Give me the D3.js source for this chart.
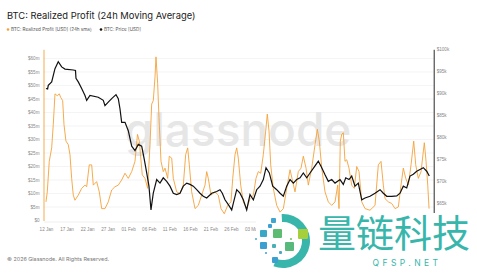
<!DOCTYPE html>
<html>
<head>
<meta charset="utf-8">
<script src="https://cdn.jsdelivr.net/npm/d3@7"></script>
<style>
  html, body { margin: 0; padding: 0; background: #fff; }
  svg { display: block; font-family: Inter, "Noto Sans", sans-serif; }
</style>
</head>
<body>
<svg id="chart" width="477" height="273"></svg>
<script>
// days after 2026-01-12 (UTC) and realized profit in $m
const profitDays = [0, 0.32, 0.8, 1.39, 1.78, 2.19, 2.75, 3.24, 3.58, 4.06, 4.38, 4.86, 5.42, 5.84, 6.25, 6.64, 7.05, 7.86, 8.68, 9.49,
  9.9, 10.53, 11.12, 11.51, 12.33, 12.97, 13.55, 14.35, 15.15, 15.98, 16.78, 17.59, 18.41, 19.22, 20.02, 20.85, 21.65, 22.26, 22.7, 22.99,
  23.42, 24.08, 24.74, 25.3, 25.71, 26.1, 26.52, 26.76, 27.17, 27.49, 27.98, 28.53, 28.95, 29.6, 29.99, 30.58, 30.97, 31.79, 32.6, 33.4,
  33.98, 34.47, 34.86, 35.44, 36.25, 37.05, 37.87, 38.68, 39.09, 39.48, 40.13, 41.11, 41.91, 42.57, 43.37, 44.2, 45.0, 45.42, 45.98, 46.39,
  46.78, 47.36, 48.0, 48.82, 49.62, 50.43, 51.08, 51.64, 52.23, 52.86, 53.44, 53.83, 54.25, 54.66, 55.29, 56.12, 56.93, 57.73, 58.55, 59.36,
  60.01, 60.57, 61.37, 62.03, 62.59, 63.25, 63.81, 64.63, 65.44, 66.0, 66.48, 67.07, 67.87, 68.67, 69.5, 70.3, 70.96, 71.27, 71.59, 71.93,
  72.32, 72.73, 73.15, 73.7, 74.36, 74.99, 75.58, 76.14, 76.8, 77.6, 78.81, 80.03, 80.83, 81.49, 82.05, 82.46, 83.27, 84.09, 84.9, 85.7,
  86.35, 86.91, 87.5, 88.13, 88.79, 89.44, 89.93, 90.56, 91.22, 92.02, 92.44, 92.85, 93.17];
const profitValues = [6.9, 10.6, 21.9, 26.9, 35.6, 46.9, 46.2, 46.9, 45.6, 44.4, 35.6, 29.4, 28.1, 24.4, 15.6, 9.4, 7.5, 9.4, 11.9, 13.1,
  12.5, 20.6, 20.6, 13.1, 14.4, 10.6, 4.4, 4.4, 6.9, 11.3, 12.5, 13.1, 15.0, 17.5, 15.6, 18.1, 21.9, 31.9, 29.4, 24.4,
  16.9, 15.6, 11.9, 28.1, 43.1, 44.4, 53.1, 60.6, 50.6, 38.1, 21.9, 18.1, 19.4, 15.6, 23.8, 23.1, 15.6, 10.6, 10.0, 13.1,
  24.4, 26.9, 20.6, 10.6, 4.4, 5.6, 9.4, 13.1, 18.1, 15.6, 9.4, 10.6, 9.4, 4.4, 2.5, 5.6, 6.9, 15.6, 24.4, 26.9,
  23.1, 13.1, 6.9, 4.4, 8.1, 9.4, 15.6, 18.1, 17.5, 24.4, 33.1, 39.4, 33.1, 20.6, 11.9, 5.6, 3.1, 4.4, 11.9, 18.8,
  14.4, 10.6, 18.1, 19.4, 23.8, 19.4, 13.1, 19.4, 28.1, 33.8, 29.4, 19.4, 10.6, 6.9, 5.6, 6.9, 13.1, 4.4, 29.4, 31.9,
  32.5, 21.9, 22.5, 19.4, 13.1, 11.9, 20.0, 18.1, 6.9, 4.4, 3.8, 5.6, 20.6, 21.9, 13.1, 8.1, 6.9, 6.3, 4.4, 5.0,
  13.1, 19.4, 15.6, 13.1, 20.6, 29.4, 20.6, 15.6, 18.1, 28.8, 21.9, 13.1, 4.4];

// days after 2026-01-12 (UTC) and BTC price in $k
const priceDays = [0, 0.4, 0.56, 1.39, 2.19, 2.99, 3.82, 4.62, 6.64, 7.18, 7.3, 7.86, 8.68, 9.49, 9.9, 10.7, 12.72, 13.94, 14.35, 15.15,
  15.98, 17.03, 17.59, 18.0, 18.41, 19.22, 20.02, 20.85, 21.65, 22.46, 23.28, 23.91, 24.5, 25.05, 25.54, 26.1, 26.93, 27.73, 28.53, 29.36,
  30.16, 30.97, 31.79, 32.6, 33.4, 34.23, 35.03, 35.83, 36.66, 37.46, 38.26, 39.09, 40.31, 41.52, 42.33, 42.89, 43.54, 44.35, 45.17, 45.56,
  46.39, 47.19, 47.99, 48.82, 49.62, 50.43, 51.25, 52.06, 52.86, 53.52, 54.32, 55.15, 56.12, 56.93, 57.73, 58.55, 59.36, 60.16, 60.98, 61.79,
  62.59, 63.42, 64.22, 65.44, 66.24, 67.07, 67.87, 68.67, 69.5, 70.3, 71.52, 72.32, 72.91, 73.7, 74.36, 75.16, 75.96, 76.8, 77.6, 78.81,
  80.03, 81.25, 82.05, 82.88, 84.09, 85.31, 86.11, 86.91, 87.74, 88.54, 89.34, 90.17, 90.97, 91.77, 92.6, 93.23];
const priceValues = [91.1, 91.0, 91.8, 92.6, 95.6, 97.2, 96.0, 95.5, 95.3, 95.2, 93.4, 92.6, 91.1, 89.5, 88.4, 89.5, 89.1, 88.4, 87.2, 88.0,
  88.8, 89.7, 88.8, 86.5, 83.4, 83.4, 81.5, 78.0, 77.0, 78.4, 78.0, 75.0, 71.9, 68.9, 63.5, 67.3, 70.4, 69.6, 70.8, 70.0,
  68.9, 67.3, 67.0, 67.3, 68.9, 69.6, 69.3, 68.9, 68.1, 67.3, 66.6, 66.2, 67.3, 67.7, 68.1, 67.3, 65.8, 64.7, 63.5, 65.0,
  68.1, 67.3, 65.8, 63.5, 67.0, 65.8, 68.1, 68.9, 70.4, 73.1, 71.9, 68.9, 68.1, 67.3, 66.6, 68.9, 70.4, 69.6, 70.4, 70.8,
  71.9, 70.8, 71.9, 73.5, 74.6, 73.1, 71.5, 70.0, 70.4, 69.6, 70.4, 69.3, 70.8, 70.4, 71.2, 68.9, 69.6, 65.8, 66.2, 66.6,
  67.3, 68.1, 67.3, 66.6, 66.6, 66.7, 67.3, 68.9, 68.5, 71.2, 71.6, 72.3, 72.7, 73.1, 72.3, 71.2];

// only the date labels left visible by the stamp in the corner
const xTickDates = ["2026-01-12", "2026-01-17", "2026-01-22", "2026-01-27", "2026-02-01", "2026-02-06", "2026-02-11",
  "2026-02-16", "2026-02-21", "2026-02-26", "2026-03-03"];
const profitTicks = [0, 5, 10, 15, 20, 25, 30, 35, 40, 45, 50, 55, 60];
const priceTicks = [65, 70, 75, 80, 85, 90, 95, 100];

const title = "BTC: Realized Profit (24h Moving Average)";
const legendItems = ["BTC: Realized Profit [USD] (24h sma)", "BTC: Price [USD]"];
const footer = "\u00a9 2026 Glassnode. All Rights Reserved.";

const orange = "#f4a13a";
const start = Date.UTC(2026, 0, 12);
const toDate = d => new Date(start + d * 864e5);

const svg = d3.select("#chart");
svg.append("rect").attr("width", 477).attr("height", 273).attr("fill", "#fff");

const plotLeft = 43.5, plotRight = 433.7, plotTop = 49.3, plotBottom = 220.5;

const x = d3.scaleUtc()
  .domain([toDate(-0.6), toDate(94.3)])
  .range([plotLeft, plotRight]);
const yProfit = d3.scaleLinear().domain([0, 63.4]).range([plotBottom, plotTop]);
const yPrice = d3.scaleLinear().domain([61.1, 100]).range([plotBottom, plotTop]);

// grid
svg.append("g")
  .selectAll("line")
  .data(profitTicks.filter(t => t > 0))
  .join("line")
  .attr("x1", plotLeft).attr("x2", plotRight)
  .attr("y1", d => yProfit(d)).attr("y2", d => yProfit(d))
  .attr("stroke", "#ededed").attr("stroke-width", 0.6);

// watermark
svg.append("text")
  .attr("x", 238).attr("y", 146)
  .attr("text-anchor", "middle")
  .attr("font-size", 46)
  .attr("font-weight", 500)
  .attr("fill", "#e6e6e6")
  .text("glassnode");

// x axis
const xAxis = svg.append("g")
  .attr("transform", `translate(0,${plotBottom + 1})`)
  .call(d3.axisBottom(x)
    .tickValues(xTickDates.map(s => new Date(s + "T00:00:00Z")))
    .tickFormat(d3.utcFormat("%d %b"))
    .tickSize(0).tickPadding(6));
xAxis.select(".domain").attr("stroke", "#e4e4e4").attr("stroke-width", 0.6);
xAxis.selectAll("text").attr("font-size", 4.6).attr("fill", "#888").attr("font-family", null);

// left axis
const lAxis = svg.append("g")
  .attr("transform", `translate(${plotLeft},0)`)
  .call(d3.axisLeft(yProfit)
    .tickValues(profitTicks)
    .tickFormat(d => d === 0 ? "$0" : "$" + d + "m")
    .tickSize(0).tickPadding(4));
lAxis.select(".domain").attr("stroke", orange).attr("stroke-width", 0.9);
lAxis.selectAll("text").attr("font-size", 4.6).attr("fill", "#888").attr("font-family", null);

// right axis
const rAxis = svg.append("g")
  .attr("transform", `translate(${plotRight},0)`)
  .call(d3.axisRight(yPrice)
    .tickValues(priceTicks)
    .tickFormat(d => "$" + d + "k")
    .tickSize(0).tickPadding(3));
rAxis.select(".domain").attr("stroke", "#111").attr("stroke-width", 0.9);
rAxis.selectAll("text").attr("font-size", 4.6).attr("fill", "#888").attr("font-family", null);

// lines
const profitLine = d3.line()
  .x((d, i) => x(toDate(profitDays[i])))
  .y(d => yProfit(d));
svg.append("path")
  .datum(profitValues)
  .attr("d", profitLine)
  .attr("fill", "none").attr("stroke", orange).attr("stroke-width", 0.9);

const priceLine = d3.line()
  .x((d, i) => x(toDate(priceDays[i])))
  .y(d => yPrice(d));
svg.append("path")
  .datum(priceValues)
  .attr("d", priceLine)
  .attr("fill", "none").attr("stroke", "#111").attr("stroke-width", 1.2);

// title + legend
svg.append("text")
  .attr("x", 7).attr("y", 18.5)
  .attr("font-size", 9.4).attr("fill", "#222")
  .text(title);

const legend = svg.append("g").attr("transform", "translate(8,29.5)");
const legendX = [0, 93];
legend.selectAll("g")
  .data(legendItems)
  .join("g")
  .attr("transform", (d, i) => `translate(${legendX[i]},0)`)
  .each(function (d, i) {
    const g = d3.select(this);
    g.append("circle").attr("r", 1.3).attr("fill", i === 0 ? orange : "#111");
    g.append("text").attr("x", 3).attr("y", 1.6)
      .attr("font-size", 4.6).attr("fill", "#555").text(d);
  });

// footer
svg.append("text")
  .attr("x", 7).attr("y", 261)
  .attr("font-size", 5.4).attr("fill", "#777")
  .text(footer);

// overlay stamp of the re-poster (opaque white box covers the chart corner)
const teal = "#38b6ab";
svg.append("rect")
  .attr("x", 256).attr("y", 213).attr("width", 221).attr("height", 60)
  .attr("fill", "#fff");

const logo = svg.append("g").attr("transform", "translate(283,241)");
logo.append("path")
  .attr("d", d3.arc()({ innerRadius: 19, outerRadius: 27, startAngle: -0.05, endAngle: Math.PI + 0.36 }))
  .attr("fill", teal);
const squares = [
  [-12, -23, 5, "#3fa6cf"], [-15, -17, 4, "#3d9fd2"], [-23, -11, 7, "#3aa8c4"], [-10, -12, 9, "#5dbb72"],
  [15, -12, 10, "#a6cf3c"], [2, 1, 9, "#58b97c"], [-23, 1, 7, "#3ba0cf"], [-28, -3, 2, "#4aa8c8"],
  [-11, 3, 4, "#4ab0b5"], [-18, 11, 2, "#3d9bd4"], [-11, 16, 6, "#3b9fd0"], [-4, 10, 3, "#48aac0"],
  [7, -3, 2, "#6cc35a"]
];
logo.selectAll("rect")
  .data(squares)
  .join("rect")
  .attr("x", d => d[0]).attr("y", d => d[1])
  .attr("width", d => d[2]).attr("height", d => d[2])
  .attr("rx", 1)
  .attr("fill", d => d[3]);

svg.append("text")
  .attr("x", 318).attr("y", 247)
  .attr("font-family", "'Noto Sans CJK SC', sans-serif")
  .attr("font-size", 38).attr("fill", teal)
  .text("量链科技");
svg.append("text")
  .attr("x", 407).attr("y", 266)
  .attr("text-anchor", "middle")
  .attr("font-size", 8.5).attr("letter-spacing", 3.4).attr("fill", teal)
  .text("QFSP.NET");
</script>
</body>
</html>
